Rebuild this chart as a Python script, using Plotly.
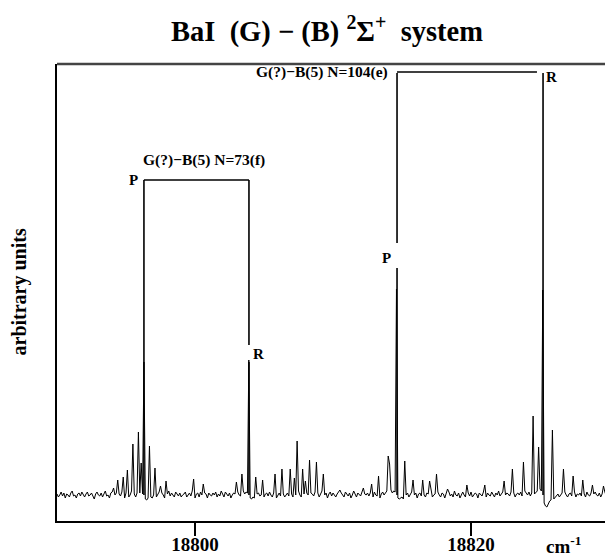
import numpy as np
import plotly.graph_objects as go

# ---------------- data ----------------
x_start = 18790.0          # cm^-1, first sample
x_step = 0.1               # cm^-1 sampling
baseline_noise = [
    1,-2,0,3,-1,2,-3,1,0,-2,2,4,-1,0,-3,1,2,-1,3,0,
    -2,1,3,-1,0,2,-2,-4,1,3,0,-1,2,-2,1,4,-1,0,-3,2,
    3,-1,0,2,-2,1,-1,3,0,-3,2,1,-2,0,4,-1,1,-2,2,0,
    2,4,1,3,-4,-5,-3,-4,-2,-3,0,2,-2,1,3,-1,2,0,-3,2,
    1,4,-1,2,0,-2,3,1,-1,2,-2,0,1,3,-2,0,2,-1,4,0,
    -3,1,2,-2,3,0,-1,2,1,-3,2,0,-1,2,0,3,-2,1,-1,4,
    0,-2,3,1,-1,2,-3,0,2,1,-2,3,0,-1,2,4,1,3,2,5,
    -3,-4,-2,-3,-1,1,2,-1,0,3,-2,1,2,-1,3,0,-2,2,1,-3,
    0,2,-1,3,1,-2,0,2,-1,3,1,-2,2,0,-1,4,0,-2,3,1,
    -1,2,0,-3,2,1,-1,3,0,2,-2,1,4,-1,0,2,-3,1,3,-1,
    2,0,-2,1,3,-1,2,0,-2,3,1,-1,2,-3,0,4,1,-2,2,0,
    -1,3,-2,1,0,2,-1,2,1,-2,3,0,-1,2,-3,1,3,0,2,4,
    1,3,5,2,4,3,6,-3,-4,-3,-2,-4,-1,0,2,-2,1,3,-1,0,
    2,-3,1,2,-1,3,0,-2,2,1,-1,3,-2,0,1,-1,3,0,-2,2,
    1,-3,2,0,3,-1,1,-2,4,0,-1,2,-3,1,3,0,-2,1,2,-1,
    3,-2,0,2,1,-3,2,0,-1,3,1,-2,2,0,-1,3,1,-2,2,0,
    4,-1,1,3,-2,0,2,1,-1,3,0,2,-2,1,2,0,3,-1,1,4,
    2,0,3,-1,2,5,1,3,4,2,6,4,5,-8,-11,-12,-9,-6,-5,-3,
    -4,-2,-1,1,-2,0,2,-1,3,0,-2,1,2,-1,0,3,-2,1,0,2,
    -1,2,1,-2,3,0,-1,2,-2,1,3,0,-1,2,-2,1,0,3,-1,2,
]

# spectral lines (cm^-1) and their heights (arb. units)
peak_pos = [18794.06, 18794.42, 18794.78, 18795.14, 18795.51, 18795.87, 18796.09,
            18796.67, 18797.10, 18797.54, 18797.90, 18799.93, 18800.58,
            18803.04, 18803.41, 18804.42, 18804.93, 18805.80, 18806.30,
            18806.88, 18807.17, 18807.39, 18807.75, 18807.97, 18808.26,
            18808.77, 18809.35, 18810.51, 18812.17, 18812.83, 18813.33,
            18813.99, 18814.13, 18815.22, 18815.80, 18816.45, 18817.03,
            18817.46, 18818.33, 18819.71, 18821.01, 18822.39, 18823.04,
            18823.77, 18824.49, 18824.93, 18825.94, 18826.67, 18827.39,
            18828.12, 18828.84, 18829.57]
peak_h = [8, 17, 18, 24, 52, 63, 28,
          53, 25, 10, 12, 16, 12,
          15, 19, 19, 12, 20, 23,
          23, 15, 55, 23, 15, 38,
          33, 22, 6, 9, 10, 17,
          38, 28, 35, 16, 12, 15,
          22, 6, 9, 9, 16, 26,
          32, 74, 46, 68, 27, 19,
          13, 12, 9]

# assigned lines: G(?)-B(5) N=73(f) and N=104(e)
assign_labels = ["G(?)−B(5) N=73(f)", "G(?)−B(5) N=104(e)"]
p_lines = [18796.30, 18814.64]
r_lines = [18803.91, 18825.22]
line_h = [130, 200]            # heights of the assigned lines in the spectrum
bracket_h = [315, 423]

x_ticks = [18800, 18820]
x_ticktext = ["18800", "18820"]
x_range = [18790.0, 18829.71]
y_range = [-26, 431]

# ---------------- build spectrum ----------------
x = x_start + x_step * np.arange(len(baseline_noise))
y = np.array(baseline_noise, dtype=float)
for p, h in zip(peak_pos + p_lines + r_lines, peak_h + line_h + line_h):
    i = int(round((p - x_start) / x_step))
    if 0 <= i < len(y):
        y[i] += h

SERIF = "Liberation Serif"
fig = go.Figure()
fig.add_trace(go.Scatter(x=x, y=y, mode="lines",
                         line=dict(color="black", width=1), hoverinfo="skip",
                         showlegend=False))

def seg(x0, y0, x1, y1, w=1.6):
    fig.add_shape(type="line", xref="x", yref="y", x0=x0, y0=y0, x1=x1, y1=y1,
                  line=dict(color="black", width=w))

# N=73 bracket
seg(p_lines[0], 0, p_lines[0], bracket_h[0])
seg(p_lines[0], bracket_h[0], r_lines[0], bracket_h[0])
seg(r_lines[0], bracket_h[0], r_lines[0], 150)
seg(r_lines[0], 133, r_lines[0], 0)
# N=104 bracket
seg(p_lines[1], bracket_h[1] - 1, p_lines[1], 252)
seg(p_lines[1], 227, p_lines[1], 0)
seg(p_lines[1], bracket_h[1], r_lines[1] - 0.44, bracket_h[1])
seg(r_lines[1], bracket_h[1] - 1, r_lines[1], 0)

# top frame line
fig.add_shape(type="line", xref="paper", yref="paper", x0=0, x1=1, y0=1, y1=1,
              line=dict(color="#444", width=2.5))

lab_font = dict(family=SERIF, size=15, color="black")
ann_font = dict(family=SERIF, size=15.5, color="black")
ann = [
    dict(x=18800.65, y=335, text="<b>" + assign_labels[0] + "</b>", font=ann_font),
    dict(x=18814.10, y=423, text="<b>" + assign_labels[1] + "</b>", xanchor="right",
         font=ann_font),
    dict(x=18795.51, y=315, text="<b>P</b>", font=lab_font),
    dict(x=18804.57, y=141, text="<b>R</b>", font=lab_font),
    dict(x=18813.91, y=237, text="<b>P</b>", font=lab_font),
    dict(x=18825.80, y=418, text="<b>R</b>", font=lab_font),
]
for a in ann:
    fig.add_annotation(xref="x", yref="y", showarrow=False, xanchor=a.pop("xanchor", "center"),
                       yanchor="middle", **a)

fig.add_annotation(xref="paper", yref="paper", x=-(57 - 19) / 548, y=0.5, showarrow=False,
                   xanchor="center", yanchor="middle",
                   text="<b>arbitrary units</b>", textangle=-90,
                   font=dict(family=SERIF, size=20, color="black"))
fig.add_annotation(xref="paper", yref="paper", x=(563 - 57) / 548, y=-(545 - 521) / 457,
                   showarrow=False, xanchor="center", yanchor="middle",
                   text="<b>cm<sup>-1</sup></b>",
                   font=dict(family=SERIF, size=19, color="black"))

fig.update_layout(
    width=605, height=559,
    margin=dict(l=57, r=0, t=64, b=38),
    paper_bgcolor="white", plot_bgcolor="white",
    title=dict(text="<b>BaI&nbsp; (G) − (B) <sup>2</sup>Σ<sup>+</sup>&nbsp; system</b>",
               x=327 / 605, xanchor="center", y=1 - 31 / 559, yanchor="middle",
               font=dict(family=SERIF, size=28.5, color="black")),
    xaxis=dict(range=x_range, tickvals=x_ticks, ticktext=x_ticktext,
               ticks="outside", ticklen=13, tickwidth=1.5, tickcolor="black",
               tickfont=dict(family=SERIF, size=19, color="black", weight="bold"),
               ticklabelstandoff=-8,
               showline=True, linecolor="black", linewidth=1.5, mirror=False,
               showgrid=False, zeroline=False),
    yaxis=dict(range=y_range, showticklabels=False, ticks="",
               showline=True, linecolor="black", linewidth=2,
               showgrid=False, zeroline=False),
)

# remove the default page margin / scrollbars so the figure fills the window exactly
fig.write_html("out.html", config={"displayModeBar": False}, post_script=(
    "document.body.style.margin='0';"
    "document.documentElement.style.overflow='hidden';"
    "document.body.style.overflow='hidden';"))
